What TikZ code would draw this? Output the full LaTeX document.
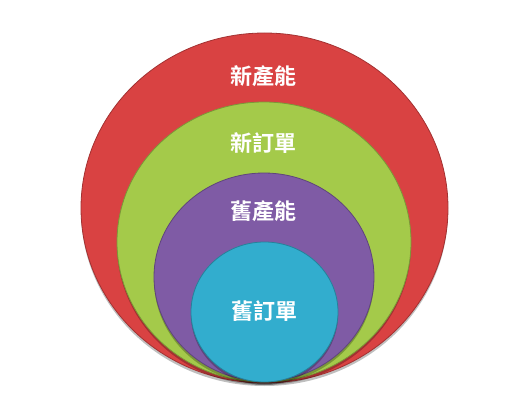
\documentclass[tikz,border=0pt]{standalone}
\usepackage{fontspec}
\usepackage{tikz}
\usetikzlibrary{shapes.geometric,shadows}
\newfontfamily\cjk{Noto Sans CJK TC}[BoldFont={Noto Sans CJK TC Bold}]
\definecolor{ringred}{RGB}{217,66,66}
\definecolor{ringgreen}{RGB}{164,202,74}
\definecolor{ringpurple}{RGB}{127,91,165}
\definecolor{ringcyan}{RGB}{50,173,206}
\tikzset{
	ring/.style={ellipse, inner sep=0pt, draw=#1!75!black, line width=0.8pt, fill=#1,
		drop shadow={shadow xshift=0pt, shadow yshift=-3pt, opacity=0.25, fill=black}},
	tag/.style={text=white, font=\cjk\bfseries\fontsize{22}{26}\selectfont}
}

\begin{document}
\begin{tikzpicture}[x=1pt,y=1pt]
	
	\useasboundingbox (0,0) rectangle (509,416);
	
	\node[ring=ringred, minimum width=367pt, minimum height=350pt] (r1) at (264.5,208) {};
	
	\node[ring=ringgreen, minimum width=294pt, minimum height=280pt] (r2) at (264,174) {};
	
	\node[ring=ringpurple, minimum width=220pt, minimum height=208pt] (r3) at (264,139) {};
	
	\node[ring=ringcyan, minimum width=147pt, minimum height=140pt] (r4) at (264.5,104) {};
	
	\node[tag] (t1) at (263,340) {新產能};
	
	\node[tag] (t2) at (263,273) {新訂單};
	
	\node[tag] (t3) at (263,205) {舊產能};
	
	\node[tag] (t4) at (264,105) {舊訂單};
	
\end{tikzpicture}
\end{document}
